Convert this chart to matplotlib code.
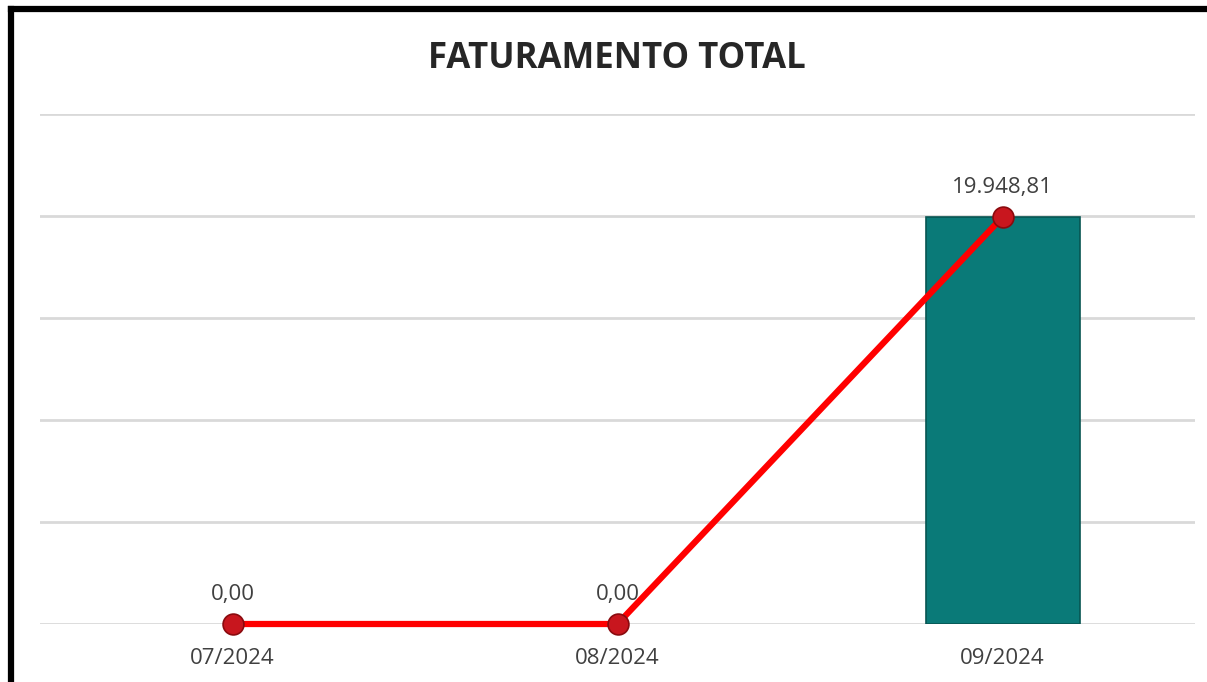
import matplotlib
matplotlib.use("Agg")
import matplotlib.pyplot as plt
from matplotlib.lines import Line2D

categories = ["07/2024", "08/2024", "09/2024"]
bar_values = [0.0, 0.0, 19948.81]
line_values = [0.0, 0.0, 19948.81]
value_labels = ["0,00", "0,00", "19.948,81"]
title = "FATURAMENTO TOTAL"

W, H = 1207, 682
fig = plt.figure(figsize=(W / 100, H / 100), dpi=100)
fig.patch.set_facecolor("white")

ax = fig.add_axes([40 / W, 1 - 624 / H, 1155 / W, (624 - 114) / H])
x = list(range(len(categories)))

bars = ax.bar(x, bar_values, width=0.4, color="#0A7A78", edgecolor="#075552", linewidth=1.2, zorder=2)
for b, v in zip(bars, bar_values):
    if v == 0:
        b.set_visible(False)
ax.plot(x, line_values, color="#FF0000", linewidth=4.5, zorder=3, clip_on=False,
        marker="o", markersize=15, markerfacecolor="#C8161E", markeredgecolor="#8A0A0E",
        markeredgewidth=1.2, solid_capstyle="round")

ax.set_xlim(-0.5, 2.5)
ax.set_ylim(0, 25000)
ax.set_yticks([0, 5000, 10000, 15000, 20000, 25000])
ax.yaxis.grid(True, color="#D9D9D9", linewidth=2)
ax.set_axisbelow(True)
ax.tick_params(axis="y", left=False, labelleft=False)
ax.tick_params(axis="x", bottom=False, pad=14)
ax.set_xticks(x)
ax.set_xticklabels(categories, fontsize=16, color="#404040", family="Open Sans")
for s in ax.spines.values():
    s.set_visible(False)

for xi, v, lab in zip(x, line_values, value_labels):
    ax.annotate(lab, (xi, v), xytext=(0, 14), textcoords="offset points",
                ha="center", va="bottom", fontsize=16, color="#404040", family="Open Sans")

fig.text(617 / W, 1 - 59 / H, title, ha="center", va="center", fontsize=25,
         fontweight="bold", color="#262626", family="Open Sans")

# black frame (top and left edges visible)
fig.add_artist(Line2D([11 / W, 1.0], [1 - 9 / H, 1 - 9 / H], color="black", linewidth=4.5,
                      transform=fig.transFigure, solid_capstyle="projecting"))
fig.add_artist(Line2D([11 / W, 11 / W], [1 - 9 / H, 0.0], color="black", linewidth=4.5,
                      transform=fig.transFigure, solid_capstyle="projecting"))

fig.savefig("out.png", dpi=100)
